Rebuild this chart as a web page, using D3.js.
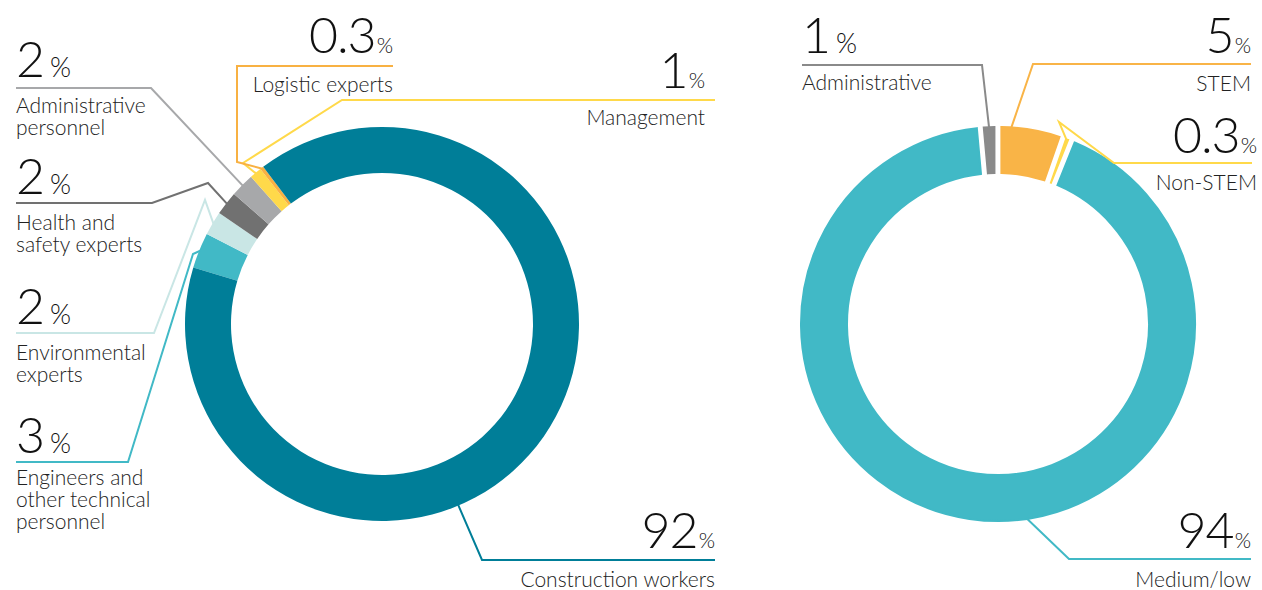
<!DOCTYPE html>
<html>
<head>
<meta charset="utf-8">
<script src="https://cdn.jsdelivr.net/npm/d3@7"></script>
<style>
  body { margin: 0; background: #fff; }
  text { font-family: Lato, "Open Sans", sans-serif; }
</style>
</head>
<body>
<svg id="chart"></svg>
<script>
// left ring: job profiles
var leftCategories = ["Engineers and\nother technical\npersonnel", "Environmental\nexperts", "Health and\nsafety experts",
  "Administrative\npersonnel", "Management", "Logistic experts", "Construction workers"];
var leftValues = [3, 2, 2, 2, 1, 0.3, 92];
var leftColors = ["#41b9c6", "#c9e6e5", "#717171", "#a7a8aa", "#ffd94a", "#f8b143", "#007e98"];

// right ring: skill levels
var rightCategories = ["Administrative", "STEM", "Non-STEM", "Medium/low"];
var rightValues = [1, 5, 0.3, 94];
var rightColors = ["#8a8a8a", "#f9b447", "#ffd94a", "#41b9c6"];

var width = 1262, height = 590;
var outerR = 197, innerR = 151;

// label placement, one entry per slice (same order as the data)
var leftLayout = [
  { anchor: "start", x: 16, numY: 453, textY: 485, path: [[16, 462], [128, 462], [193, 254]], t: 0.5 },
  { anchor: "start", x: 16, numY: 324, textY: 360, path: [[16, 333], [154, 333], [205, 200]], t: 0.5 },
  { anchor: "start", x: 16, numY: 194, textY: 230, path: [[16, 203], [152, 203], [208, 183]], t: 0.5 },
  { anchor: "start", x: 16, numY: 77, textY: 113, path: [[16, 88], [151, 88]], t: 0.5 },
  { anchor: "end", x: 705, numY: 88, textY: 125, path: [[715, 100], [342, 100], [243, 163]], t: 0.5 },
  { anchor: "end", x: 393, numY: 53, textY: 92, path: [[393, 66], [237, 66], [237, 162]], t: 0.5 },
  { anchor: "end", x: 715, numY: 548, textY: 587, path: [[715, 560], [482, 560]], t: 0.6 }
];
var rightLayout = [
  { anchor: "start", x: 802, numY: 53, textY: 90, path: [[802, 65], [982, 65]], t: 0.5 },
  { anchor: "end", x: 1251, numY: 53, textY: 91, path: [[1251, 64], [1033, 64]], t: 0.2 },
  { anchor: "end", x: 1257, numY: 153, textY: 190, path: [[1252, 163], [1114, 163], [1059, 122]], t: 0.5 },
  { anchor: "end", x: 1251, numY: 548, textY: 587, path: [[1251, 559], [1069, 559]], t: 0.45 }
];

var svg = d3.select("#chart")
  .attr("width", width)
  .attr("height", height);

svg.append("rect")
  .attr("width", width)
  .attr("height", height)
  .attr("fill", "#fff");

drawRing({
  cx: 382, cy: 324, startAngle: -1.28, padAngle: 0, outline: 0,
  categories: leftCategories, values: leftValues, colors: leftColors, layout: leftLayout
});
drawRing({
  cx: 998, cy: 324, startAngle: -0.09, padAngle: 0.028, outline: 2,
  categories: rightCategories, values: rightValues, colors: rightColors, layout: rightLayout
});

function drawRing(opt) {
  var g = svg.append("g");
  var pie = d3.pie()
    .sort(null)
    .value(function (d) { return d; })
    .startAngle(opt.startAngle)
    .endAngle(opt.startAngle + 2 * Math.PI)
    .padAngle(opt.padAngle);
  var arcs = pie(opt.values);

  var arc = d3.arc()
    .innerRadius(innerR)
    .outerRadius(outerR);

  var ring = g.append("g")
    .attr("transform", "translate(" + opt.cx + "," + opt.cy + ")");

  ring.selectAll("path")
    .data(arcs)
    .join("path")
    .attr("d", arc)
    .attr("fill", function (d, i) { return opt.colors[i]; })
    .attr("stroke", function (d, i) { return opt.colors[i]; })
    .attr("stroke-width", opt.outline);

  // leader lines
  var line = d3.line();
  g.selectAll("path.leader")
    .data(arcs)
    .join("path")
    .attr("class", "leader")
    .attr("fill", "none")
    .attr("stroke", function (d, i) { return opt.colors[i]; })
    .attr("stroke-width", 2)
    .attr("d", function (d, i) {
      var lay = opt.layout[i];
      var a = d.startAngle + lay.t * (d.endAngle - d.startAngle);
      var p = d3.pointRadial(a, outerR - 1);
      return line(lay.path.concat([[opt.cx + p[0], opt.cy + p[1]]]));
    });

  // big percentage numbers
  var num = g.selectAll("text.num")
    .data(arcs)
    .join("text")
    .attr("class", "num")
    .attr("x", function (d, i) { return opt.layout[i].x; })
    .attr("y", function (d, i) { return opt.layout[i].numY; })
    .attr("text-anchor", function (d, i) { return opt.layout[i].anchor; })
    .attr("fill", "#111");
  num.append("tspan")
    .attr("font-size", 50)
    .attr("font-weight", 300)
    .attr("letter-spacing", -1)
    .text(function (d) { return d.data; });
  num.append("tspan")
    .attr("font-size", function (d, i) { return opt.layout[i].anchor == "start" ? 27 : 21; })
    .attr("font-weight", 300)
    .attr("dx", function (d, i) { return opt.layout[i].anchor == "start" ? 6 : 1; })
    .text("%");

  // category names
  g.selectAll("text.cat")
    .data(arcs)
    .join("text")
    .attr("class", "cat")
    .attr("text-anchor", function (d, i) { return opt.layout[i].anchor; })
    .attr("font-size", 21)
    .attr("font-weight", 300)
    .attr("fill", "#222")
    .each(function (d, i) {
      var lay = opt.layout[i];
      d3.select(this).selectAll("tspan")
        .data(opt.categories[i].split("\n"))
        .join("tspan")
        .attr("x", lay.x)
        .attr("y", function (s, k) { return lay.textY + k * 22; })
        .text(function (s) { return s; });
    });
}
</script>
</body>
</html>
